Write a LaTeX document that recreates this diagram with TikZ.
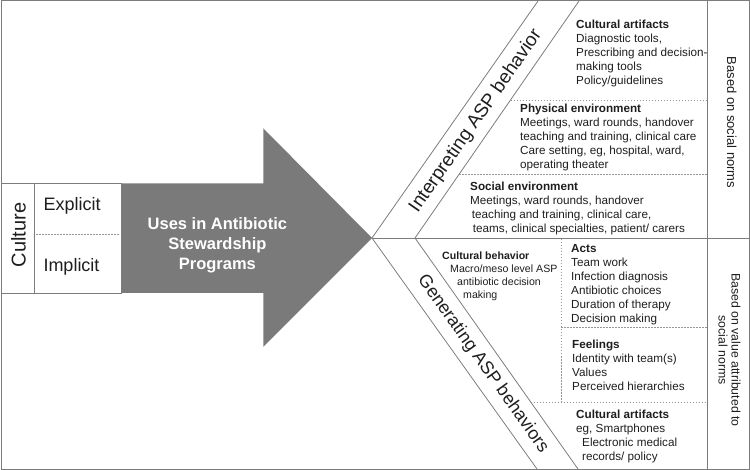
\documentclass[tikz,border=0pt]{standalone}
\usepackage{fontspec}
\setmainfont{Liberation Sans}
\definecolor{linegray}{HTML}{7C7C7C}
\definecolor{arrowgray}{HTML}{7A7A7A}
\definecolor{txt}{HTML}{1E1E1E}
\newcommand\tblock[2]{\vtop{\baselineskip=#1\lineskiplimit=-100pt\lineskip=0pt #2}}
\tikzset{
  ln/.style={draw=linegray, line width=0.8pt},
  frame/.style={draw=linegray, line width=1pt},
  dsh/.style={draw=linegray!80, line width=0.6pt, dash pattern=on 1.5pt off 1.5pt},
  body/.style={inner sep=0pt, anchor=base west, text=txt, font=\fontsize{11.7}{14}\selectfont},
  small/.style={body, font=\fontsize{10.6}{12.8}\selectfont},
  big/.style={inner sep=0pt, text=txt, font=\fontsize{18}{21}\selectfont},
  side/.style={inner sep=0pt, text=txt, rotate=-90, anchor=base},
}
\begin{document}
\begin{tikzpicture}[x=1pt,y=-1pt]
\useasboundingbox (0,0) rectangle (750,470);
% key points
\coordinate (tip) at (372,238);
\coordinate (ur) at (415,238);
\coordinate (uLtop) at (538,1);
\coordinate (uRtop) at (579,1);
\coordinate (dLbot) at (537,469);
\coordinate (dRbot) at (578,469);
\coordinate (midR) at (749,238);
\coordinate (colT) at (707,1);
\coordinate (colB) at (707,469);
% frame
\draw[frame] (1,1) rectangle (749,469);
% big arrow
\fill[arrowgray] (121,183.5) -- (263.3,183.5) -- (263.3,128.3) -- (tip)
  -- (263.3,346.7) -- (263.3,293) -- (121,293) -- cycle;
% culture box
\draw[ln] (1,183.5) rectangle (121,293.5);
\draw[ln] (34.5,183.5) -- (34.5,293.5);
\draw[dsh] (36,234.5) -- (119,234.5);
% bands and dividers
\draw[ln] (tip) -- (uLtop);
\draw[ln] (ur) -- (uRtop);
\draw[ln] (tip) -- (dLbot);
\draw[ln] (ur) -- (dRbot);
\draw[ln] (tip) -- (midR);
\draw[ln] (colT) -- (colB);
% dashed separators
\draw[dsh] (510.5,100) -- (707,100);
\draw[dsh] (459.3,174) -- (707,174);
\draw[dsh] (561,239) -- (561,402);
\draw[dsh] (561,327) -- (707,327);
\draw[dsh] (530.7,402) -- (707,402);
% left texts
\node[big, rotate=90, anchor=base, font=\fontsize{20}{24}\selectfont] (culture) at (25.5,235) {Culture};
\node[big, anchor=base west] (explicit) at (43.3,210.7) {Explicit};
\node[big, anchor=base west] (implicit) at (43.3,271.7) {Implicit};
\node[inner sep=0pt, anchor=base west, text=white, font=\fontsize{16.5}{20}\selectfont\bfseries] (uses) at (216.7,229.3)
  {\tblock{20pt}{\hbox to 0pt{\hss Uses in Antibiotic\hss}\hbox to 0pt{\hss Stewardship\hss}\hbox to 0pt{\hss Programs\hss}}};
% band labels
\node[inner sep=0pt, text=txt, rotate=55.2, font=\fontsize{19}{22}\selectfont] (interp) at (476,121) {Interpreting ASP behavior};
\node[inner sep=0pt, text=txt, rotate=-54.6, font=\fontsize{18}{22}\selectfont] (gener) at (483,364) {Generating ASP behaviors};
% side labels
\node[side, font=\fontsize{13}{15}\selectfont] (norms) at (727,122.5) {Based on social norms};
\node[side, font=\fontsize{12.3}{14}\selectfont] (value1) at (731.5,350) {Based on value attributed to};
\node[side, font=\fontsize{12.3}{14}\selectfont] (value2) at (718.5,350) {social norms};
% upper blocks
\node[body] (artA) at (576,29) {\tblock{14pt}{\hbox{\bfseries Cultural artifacts}\hbox{Diagnostic tools,}\hbox{Prescribing and decision-}\hbox{making tools}\hbox{Policy/guidelines}}};
\node[body] (phys) at (520,113) {\tblock{14pt}{\hbox{\bfseries Physical environment}\hbox{Meetings, ward rounds, handover}\hbox{teaching and training, clinical care}\hbox{Care setting, eg, hospital, ward,}\hbox{operating theater}}};
\node[body] (soc) at (470,191) {\tblock{14pt}{\hbox{\bfseries Social environment}\hbox{Meetings, ward rounds, handover}\hbox{\hspace*{1.7pt}teaching and training, clinical care,}\hbox{\hspace*{2.7pt}teams, clinical specialties, patient/ carers}}};
% lower blocks
\node[small] (cbeh) at (442,260) {\tblock{12.8pt}{\hbox{\bfseries Cultural behavior}\hbox{\hspace*{8pt}Macro/meso level ASP}\hbox{\hspace*{15pt}antibiotic decision}\hbox{\hspace*{21pt}making}}};
\node[body] (acts) at (571,252.7) {\tblock{14pt}{\hbox{\bfseries Acts}\hbox{Team work}\hbox{Infection diagnosis}\hbox{Antibiotic choices}\hbox{Duration of therapy}\hbox{Decision making}}};
\node[body] (feel) at (572,349) {\tblock{13.9pt}{\hbox{\bfseries Feelings}\hbox{Identity with team(s)}\hbox{Values}\hbox{Perceived hierarchies}}};
\node[body] (artB) at (576,418.3) {\tblock{14pt}{\hbox{\bfseries Cultural artifacts}\hbox{eg, Smartphones}\hbox{\hspace*{6pt}Electronic medical}\hbox{\hspace*{6pt}records/ policy}}};
\end{tikzpicture}
\end{document}
